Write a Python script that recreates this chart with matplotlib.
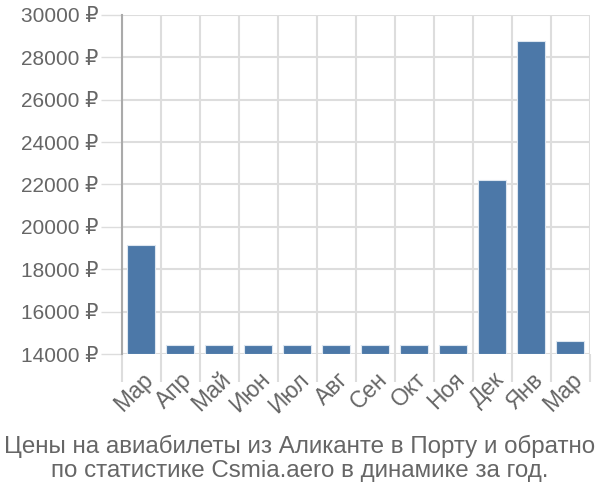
import matplotlib.pyplot as plt
import numpy as np

plt.rcParams['font.family'] = ['Liberation Sans', 'DejaVu Sans']

months = ["Мар", "Апр", "Май", "Июн", "Июл", "Авг", "Сен", "Окт", "Ноя", "Дек", "Янв", "Мар"]
prices = [19150, 14420, 14420, 14420, 14420, 14420, 14420, 14420, 14420, 22200, 28780, 14590]
yticks = [14000, 16000, 18000, 20000, 22000, 24000, 26000, 28000, 30000]
title = "Цены на авиабилеты из Аликанте в Порту и обратно\nпо статистике Csmia.aero в динамике за год."

grey = "#666666"
gridc = "#dddddd"

fig = plt.figure(figsize=(6, 5), dpi=100)
ax = fig.add_axes([0.203, 0.292, 0.78, 0.678])

x = np.arange(len(months))
ax.bar(x, np.array(prices) - 14000, bottom=14000, width=0.72, color="#4c78a8",
       edgecolor="#dde6f0", linewidth=0.8, zorder=3)

ax.set_xlim(-0.5, len(months) - 0.5)
ax.set_ylim(14000, 30000)

ax.set_yticks(yticks)
ax.set_yticklabels([f"{v} ₽" for v in yticks], color=grey, fontsize=15)
ax.tick_params(axis='y', length=15, color=gridc, width=1, pad=2)

ax.set_xticks(x)
ax.set_xticklabels(months, rotation=45, ha='right', rotation_mode='anchor', color=grey, fontsize=16.5)
ax.tick_params(axis='x', which='major', length=0, pad=10)
ax.set_xticks(np.arange(-0.5, len(months)), minor=True)
ax.tick_params(axis='x', which='minor', length=20, color=gridc, width=1.5)

ax.grid(True, axis='y', color=gridc, linewidth=1.5, zorder=0)
ax.grid(True, axis='x', which='minor', color=gridc, linewidth=1.5, zorder=0)

for s in ['top', 'right', 'bottom']:
    ax.spines[s].set_visible(False)
ax.spines['left'].set_color("#aaaaaa")
ax.spines['left'].set_linewidth(1.5)

fig.text(0.5, 1 - 435 / 500, title, ha='center', va='top', color=grey, fontsize=17.4, linespacing=1.13)

fig.savefig("out.png")
